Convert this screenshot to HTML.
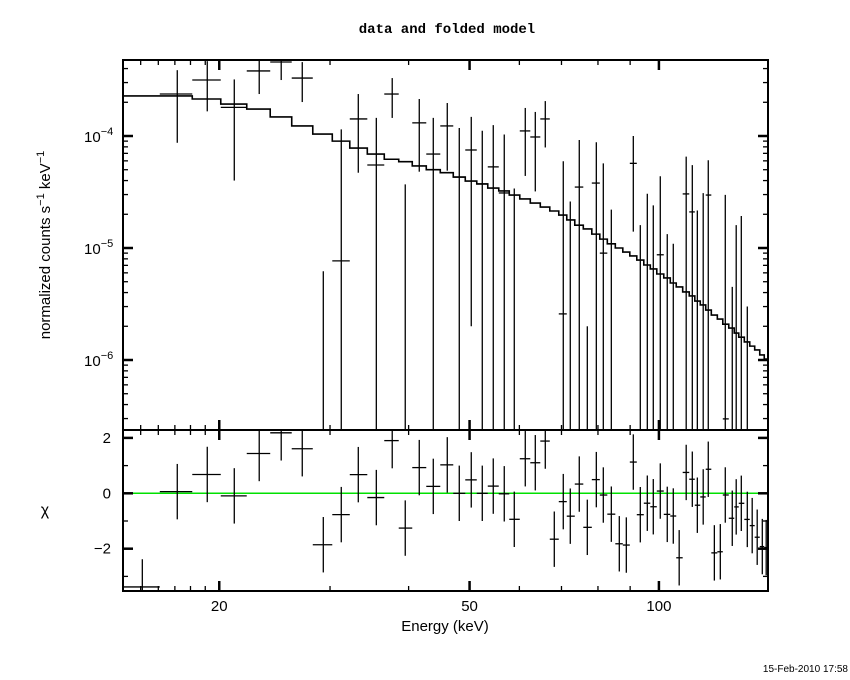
<!DOCTYPE html>
<html><head><meta charset="utf-8"><style>
html,body{margin:0;padding:0;background:#fff}
svg{display:block}
text{font-family:"Liberation Sans",sans-serif;fill:#000}
</style></head><body>
<svg id="chart" width="850" height="680" viewBox="0 0 850 680">
<defs>
<clipPath id="cTop"><rect x="123" y="60" width="645" height="370"/></clipPath>
<clipPath id="cBot"><rect x="123" y="430" width="645" height="161"/></clipPath>
</defs>
<text x="447" y="33" text-anchor="middle" style="font-family:'Liberation Mono',monospace;font-weight:bold;font-size:14px">data and folded model</text>
<g id="topPanel"></g>
<g id="botPanel"></g>
<text x="445" y="631" text-anchor="middle" font-size="15">Energy (keV)</text>
<text transform="translate(50,245) rotate(-90)" text-anchor="middle" font-size="15">normalized counts s<tspan dy="-6" font-size="11">−1</tspan><tspan dy="6"> keV</tspan><tspan dy="-6" font-size="11">−1</tspan></text>
<text x="45" y="515" text-anchor="middle" font-size="16">χ</text>
<text x="848" y="672" text-anchor="end" font-size="10">15-Feb-2010 17:58</text>
</svg>
<script>
const energy=[15.09,17.15,19.14,21.13,23.15,25.09,27.10,29.27,31.26,33.27,35.54,37.67,39.51,41.59,43.78,46.08,48.15,50.31,52.38,54.53,56.77,58.89,61.31,63.60,65.97,68.18,70.46,72.29,74.71,76.94,79.52,81.58,84.01,86.50,88.75,91.05,93.41,95.84,97.96,100.5,103.1,105.4,107.7,110.5,113.0,115.1,117.6,119.8,122.5,125.2,127.5,130.8,132.7,135.2,138.2,140.7,143.3,146.0,148.1];
const model=[2.28e-4,2.28e-4,2.14e-4,1.93e-4,1.74e-4,1.48e-4,1.23e-4,1.04e-4,9.0e-5,7.8e-5,6.9e-5,6.2e-5,5.9e-5,5.4e-5,5.0e-5,4.7e-5,4.3e-5,3.96e-5,3.73e-5,3.43e-5,3.23e-5,2.97e-5,2.74e-5,2.52e-5,2.32e-5,2.14e-5,1.97e-5,1.78e-5,1.60e-5,1.48e-5,1.33e-5,1.20e-5,1.09e-5,1.0e-5,9.2e-6,8.5e-6,7.8e-6,7.05e-6,6.5e-6,5.86e-6,5.4e-6,4.87e-6,4.49e-6,4.05e-6,3.73e-6,3.36e-6,3.10e-6,2.79e-6,2.52e-6,2.32e-6,2.09e-6,1.93e-6,1.74e-6,1.60e-6,1.45e-6,1.33e-6,1.23e-6,1.11e-6,1.02e-6];
const dataVal=[-9.55e-5,2.37e-4,3.16e-4,1.8e-4,3.81e-4,4.58e-4,3.29e-4,-1.08e-4,7.67e-6,1.42e-4,5.51e-5,2.37e-4,-4.9e-5,1.31e-4,6.9e-5,1.23e-4,4.3e-5,7.5e-5,3.73e-5,5.3e-5,3.1e-5,-3.6e-5,1.11e-4,9.8e-5,1.42e-4,-7.8e-5,2.58e-6,-2.1e-5,3.5e-5,-5.4e-5,3.8e-5,9.0e-6,-2.3e-5,-7.2e-5,-7.3e-5,5.7e-5,-2.0e-5,-6e-6,-1.0e-5,8.7e-6,-1.97e-5,-2.26e-5,-7.0e-5,3.04e-5,2.1e-5,-1.04e-5,-1.1e-6,2.97e-5,-6.2e-5,-6.1e-5,2.98e-7,-2.15e-5,-1.2e-5,-8.4e-6,-2.4e-5,-2.9e-5,-4.0e-5,-4.7e-5,-4.8e-5];
const dataErr=[9.57e-5,1.5e-4,1.5e-4,1.4e-4,1.44e-4,1.42e-4,1.28e-4,1.142e-4,1.07e-4,9.5e-5,9.0e-5,9.2e-5,8.6e-5,8.3e-5,7.6e-5,7.4e-5,7.5e-5,7.3e-5,7.4e-5,7.2e-5,7.2e-5,7.0e-5,6.7e-5,6.6e-5,6.3e-5,6.0e-5,5.7e-5,4.7e-5,5.7e-5,5.6e-5,5.0e-5,4.8e-5,4.5e-5,4.5e-5,4.4e-5,4.3e-5,3.6e-5,3.65e-5,3.4e-5,3.5e-5,3.3e-5,3.35e-5,3.2e-5,3.5e-5,3.4e-5,3.2e-5,3.2e-5,3.1e-5,3.0e-5,3.0e-5,2.95e-5,2.6e-5,2.8e-5,2.77e-5,2.7e-5,2.6e-5,2.6e-5,2.5e-5,2.5e-5];
const xTickLabels=["20","50","100"];
const xTickValues=[20,50,100];
const yTickExps=["−6","−5","−4"];
const yTickValues=[1e-6,1e-5,1e-4];
const chiTickValues=[-2,0,2];
const chiTickLabels=["−2","0","2"];

const NS="http://www.w3.org/2000/svg";
const X0=123,X1=768,YT0=60,YT1=430,YB0=430,YB1=591;
const EMIN=14.06,PXDEC=629;
function xs(e){return X0+(Math.log10(e)-Math.log10(EMIN))*PXDEC;}
function ys(v){return 136-(Math.log10(v)+4)*112;}
function yr(c){return 493.3-c*27.7;}
function mk(tag,attrs,parent){const el=document.createElementNS(NS,tag);for(const k in attrs)el.setAttribute(k,attrs[k]);parent.appendChild(el);return el;}
const svgRoot=document.getElementById('chart');
const topG=document.getElementById('topPanel'),botG=document.getElementById('botPanel');
const n=energy.length;
const edges=[EMIN];
for(let i=0;i<n-1;i++)edges.push(Math.sqrt(energy[i]*energy[i+1]));
edges.push(149);

let zl=mk('line',{x1:X0,x2:X1,y1:yr(0),y2:yr(0),stroke:'#00e000','stroke-width':1.5},botG);



let d='';
for(let i=0;i<n;i++){const y=ys(model[i]);d+=(i===0?'M':'L')+xs(edges[i])+','+y+'L'+xs(edges[i+1])+','+y;}
let mp=mk('path',{d:d,fill:'none',stroke:'#000','stroke-width':1.6,'clip-path':'url(#cTop)'},topG);



for(let i=0;i<n;i++){
  const g=mk('g',{stroke:'#000','stroke-width':1.3,'clip-path':'url(#cTop)'},topG);
  
  
  const v=dataVal[i],s=dataErr[i],xc=xs(energy[i]);
  const hi=v+s,lo=v-s;
  if(hi>0){
    const yh=ys(hi),yl=lo>0?ys(lo):YT1+5;
    mk('line',{x1:xc,x2:xc,y1:yh,y2:yl},g);
  }
  if(v>0){const yv=ys(v);mk('line',{x1:xs(edges[i]),x2:xs(edges[i+1]),y1:yv,y2:yv},g);}
  const chi=(v-model[i])/s;
  const r=mk('g',{stroke:'#000','stroke-width':1.3,'clip-path':'url(#cBot)'},botG);
  
  
  mk('line',{x1:xc,x2:xc,y1:yr(chi+1),y2:yr(chi-1)},r);
  mk('line',{x1:xs(edges[i]),x2:xs(edges[i+1]),y1:yr(chi),y2:yr(chi)},r);
}

const frames=[[topG,YT0,YT1,'data-panel-frame'],[botG,YB0,YB1,'residual-panel-frame']];
for(const fr of frames){
  const f=mk('rect',{x:X0,y:fr[1],width:X1-X0,height:fr[2]-fr[1],fill:'none',stroke:'#000','stroke-width':2},fr[0]);
  
  
}
const axg=mk('g',{stroke:'#000'},svgRoot);


const minorE=[15,16,17,18,19,30,40,60,70,80,90];
for(const e of xTickValues.concat(minorE)){
  const x=xs(e),maj=xTickValues.includes(e),L=maj?10:5,w=maj?2.5:1.3;
  const sides=[[YT0,1],[YT1,-1],[YB0,1],[YB1,-1]];
  for(const sd of sides)mk('line',{x1:x,x2:x,y1:sd[0],y2:sd[0]+sd[1]*L,'stroke-width':w},axg);
}
xTickValues.forEach((e,i)=>{const t=mk('text',{x:xs(e),y:611,'text-anchor':'middle','font-size':15},svgRoot);t.textContent=xTickLabels[i];});
const ayg=mk('g',{stroke:'#000'},svgRoot);


for(let dec=-7;dec<=-4;dec++)for(let m=1;m<10;m++){
  const v=m*Math.pow(10,dec);if(v<2.4e-7||v>4.7e-4)continue;
  const y=ys(v),maj=m===1,L=maj?10:5,w=maj?2.5:1.3;
  mk('line',{x1:X0,x2:X0+L,y1:y,y2:y,'stroke-width':w},ayg);
  mk('line',{x1:X1,x2:X1-L,y1:y,y2:y,'stroke-width':w},ayg);
}
yTickValues.forEach((v,i)=>{
  const t=mk('text',{x:84,y:ys(v)+6,'font-size':15},svgRoot);
  
  
  t.appendChild(document.createTextNode('10'));
  const sp=mk('tspan',{dy:-7,'font-size':11},t);
  sp.textContent=yTickExps[i];
});
for(let c=-3;c<=2;c++){
  const y=yr(c),maj=chiTickValues.includes(c),L=maj?10:5,w=maj?2.5:1.3;
  mk('line',{x1:X0,x2:X0+L,y1:y,y2:y,'stroke-width':w},ayg);
  mk('line',{x1:X1,x2:X1-L,y1:y,y2:y,'stroke-width':w},ayg);
}
chiTickValues.forEach((c,i)=>{const t=mk('text',{x:111,y:yr(c)+5,'text-anchor':'end','font-size':15},svgRoot);t.textContent=chiTickLabels[i];});
</script>
</body></html>
